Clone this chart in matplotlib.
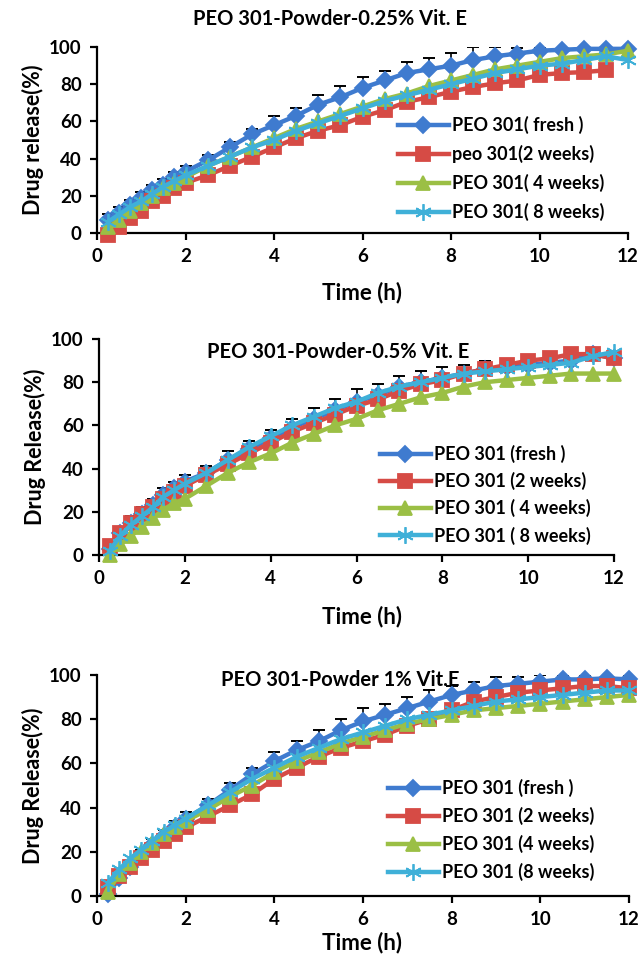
import numpy as np
import matplotlib
matplotlib.use("Agg")
from matplotlib import pyplot as plt

# time points (h)
t = [0.25, 0.5, 0.75, 1, 1.25, 1.5, 1.75, 2, 2.5, 3, 3.5, 4, 4.5, 5, 5.5,
     6, 6.5, 7, 7.5, 8, 8.5, 9, 9.5, 10, 10.5, 11, 11.5, 12]

# panel 1: 0.25% Vit. E
p1_fresh = [7, 11, 15, 19, 23, 26, 30, 33, 39, 46, 53, 58, 63, 69, 73, 78, 82, 86, 88, 90, 93, 95, 96.5, 98, 98.5, 99, 99, 99]
p1_fresh_err = [3, 3, 3, 3, 3, 3, 3, 3, 3, 3, 3, 5, 4, 5, 6, 6, 5, 6, 6, 7, 7, 5, 3, 2, 2, 1, 1, 1]
p1_2w = [-1, 3, 8, 12, 17, 20, 24, 27, 31, 36, 41, 46, 51, 55, 58, 62.5, 66, 70.5, 73, 76, 78.5, 80.5, 82, 85, 86, 86.5, 87.5]
p1_4w = [3, 7, 12, 16, 20, 24, 27, 30, 36, 41, 46, 51, 56, 60, 64, 68, 72, 75, 79, 82, 85, 88, 90, 92, 94, 95, 96, 98]
p1_8w = [6, 10, 14, 17, 21, 25, 28, 31, 36, 41, 46, 50, 55, 59, 63, 67, 71, 74, 77, 80, 83, 86, 88, 90, 91, 93, 95, 93]

# panel 2: 0.5% Vit. E
p2_fresh = [3, 10, 15, 19, 23, 28, 31, 34, 38, 44, 49, 54, 59, 63, 67, 71, 74, 78, 80, 82, 84, 86, 87, 88, 89, 90, 93, 91]
p2_fresh_err = [3, 3, 3, 3, 3, 3, 3, 3, 3, 4, 4, 4, 4, 5, 5, 6, 5, 5, 5, 5, 4, 4, 3, 3, 3, 2, 2, 2]
p2_2w = [4, 10, 15, 19, 22, 26, 29, 32, 37, 42, 47, 52, 57, 61, 65, 69, 72, 76, 79, 81, 84, 86, 88, 90, 91, 93, 93, 91]
p2_4w = [0, 5, 9, 13, 17, 21, 24, 26, 32, 38, 43, 47, 52, 56, 60, 63, 67, 70, 73, 75, 78, 80, 81, 82, 83, 84, 84, 84]
p2_8w = [2, 9, 14, 18, 22, 27, 30, 33, 38, 44, 50, 55, 60, 64, 68, 71, 75, 78, 80, 82, 84, 85, 86, 87, 88, 89, 92, 94]

# panel 3: 1% Vit. E
p3_fresh = [1, 8, 13, 18, 23, 27, 31, 35, 41, 48, 55, 61, 66, 70, 75, 79, 82, 85, 88, 91, 93, 95, 96, 97, 98, 98, 98.5, 98]
p3_fresh_err = [3, 3, 3, 3, 3, 3, 3, 3, 3, 3, 3, 4, 4, 5, 5, 6, 5, 5, 5, 4, 4, 4, 3, 3, 2, 2, 2, 2]
p3_2w = [4, 9, 13, 17, 21, 25, 28, 31, 36, 41, 46, 53, 58, 63, 67, 70, 73, 77, 80, 84, 88, 90, 92, 93, 94, 95, 95, 94]
p3_4w = [2, 10, 15, 20, 24, 28, 31, 34, 39, 45, 50, 56, 61, 65, 69, 72, 75, 78, 80, 82, 84, 85, 86, 87, 88, 89, 90, 91]
p3_8w = [6, 12, 17, 21, 25, 29, 32, 35, 41, 47, 53, 58, 63, 67, 71, 74, 77, 80, 82, 84, 86, 88, 89, 90, 91, 92, 93, 93]

titles = ["PEO 301-Powder-0.25% Vit. E", "PEO 301-Powder-0.5% Vit. E", "PEO 301-Powder 1% Vit.E"]
ylabels = ["Drug release(%)", "Drug Release(%)", "Drug Release(%)"]
labels1 = ["PEO 301( fresh )", "peo 301(2 weeks)", "PEO 301( 4 weeks)", "PEO 301( 8 weeks)"]
labels2 = ["PEO 301 (fresh )", "PEO 301 (2 weeks)", "PEO 301 ( 4 weeks)", "PEO 301 ( 8 weeks)"]
labels3 = ["PEO 301 (fresh )", "PEO 301 (2 weeks)", "PEO 301 (4 weeks)", "PEO 301 (8 weeks)"]
xticks = [0, 2, 4, 6, 8, 10, 12]
yticks = [0, 20, 40, 60, 80, 100]

colors = ['#3F7BCF', '#D64B45', '#9BBF45', '#3FB0D8']
markers = ['D', 's', '^', (6, 2, 0)]
msizes = [8.5, 10, 10, 12]

plt.rcParams['font.family'] = ['Lato', 'DejaVu Sans']
plt.rcParams['font.weight'] = 'bold'

W, H = 643, 958
fig = plt.figure(figsize=(W / 100, H / 100), dpi=100)


def px_axes(left, right, top, bottom):
    return fig.add_axes([left / W, 1 - bottom / H, (right - left) / W, (bottom - top) / H])


panels = [
    dict(box=(97, 628, 47, 233), series=[p1_fresh, p1_2w, p1_4w, p1_8w], err=p1_fresh_err,
         labels=labels1, title_xy=(330, 19), leg_xy=(398, 116), xlab_y=293, lsp=0.6),
    dict(box=(99, 614, 339, 555), series=[p2_fresh, p2_2w, p2_4w, p2_8w], err=p2_fresh_err,
         labels=labels2, title_xy=(338, 352), leg_xy=(380, 445), xlab_y=617, lsp=0.5),
    dict(box=(97, 629, 675, 896), series=[p3_fresh, p3_2w, p3_4w, p3_8w], err=p3_fresh_err,
         labels=labels3, title_xy=(340, 680), leg_xy=(388, 779), xlab_y=943, lsp=0.55),
]

for i, p in enumerate(panels):
    ax = px_axes(*p['box'])
    tt = np.array(t)
    # error bars (plus direction only)
    fr = np.array(p['series'][0])
    ax.errorbar(tt, fr, yerr=[np.zeros(len(fr)), np.array(p['err'])], fmt='none',
                ecolor='black', elinewidth=1.2, capsize=4, capthick=1.4, zorder=1)
    handles = []
    for j, ys in enumerate(p['series']):
        h, = ax.plot(tt[:len(ys)], ys, color=colors[j], lw=3.2, marker=markers[j],
                     markersize=msizes[j], markeredgecolor=colors[j], markeredgewidth=1.3,
                     label=p['labels'][j], zorder=2 + j, clip_on=False)
        handles.append(h)
    ax.set_xlim(0, 12)
    ax.set_ylim(0, 100)
    ax.set_xticks(xticks)
    ax.set_yticks(yticks)
    for s in ['top', 'right']:
        ax.spines[s].set_visible(False)
    for s in ['left', 'bottom']:
        ax.spines[s].set_linewidth(1.6)
    ax.tick_params(direction='out', length=5, width=1.6, labelsize=13.5, pad=6)
    for lab in ax.get_xticklabels() + ax.get_yticklabels():
        lab.set_fontweight('bold')
    ax.set_ylabel(ylabels[i], fontsize=15.5, fontweight='bold', labelpad=4)
    fig.text(p['title_xy'][0] / W, 1 - p['title_xy'][1] / H, titles[i], ha='center', va='center',
             fontsize=14.5, fontweight='bold')
    fig.text(362 / W, 1 - p['xlab_y'] / H, "Time (h)", ha='center', va='center',
             fontsize=16, fontweight='bold')
    leg = fig.legend(handles=handles, loc='upper left',
                     bbox_to_anchor=(p['leg_xy'][0] / W, 1 - p['leg_xy'][1] / H),
                     frameon=False, borderpad=0, borderaxespad=0, handlelength=2.8,
                     handletextpad=0.2, labelspacing=p['lsp'], prop=dict(size=13, weight='bold'))

fig.savefig("out.png", dpi=100)
